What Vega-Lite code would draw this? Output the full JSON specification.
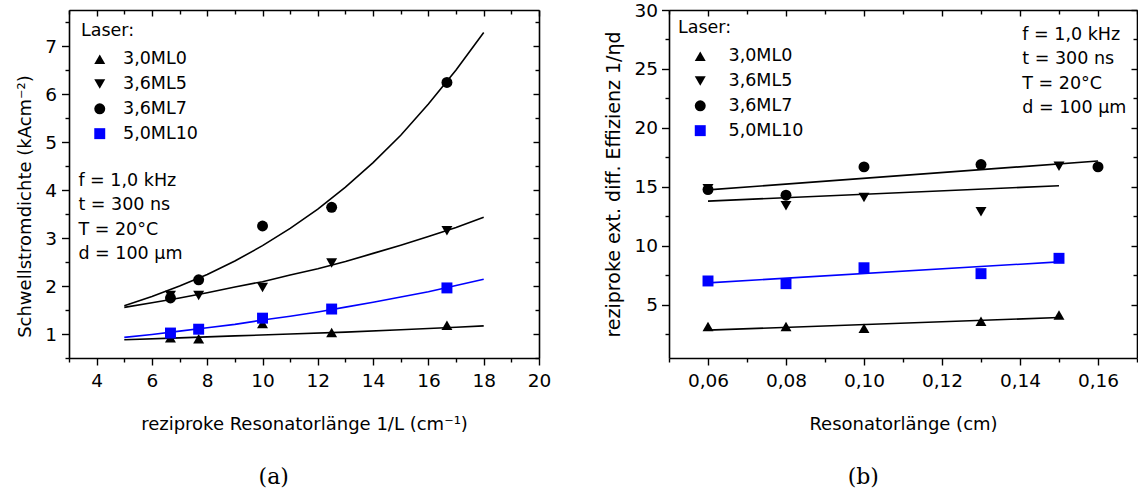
{
  "$schema": "https://vega.github.io/schema/vega-lite/v6.json",
  "background": "white",
  "padding": {"left": 16, "top": 1, "right": 0, "bottom": 0},
  "config": {
    "font": "DejaVu Sans",
    "view": {"stroke": null},
    "axis": {"grid": false, "domainColor": "black", "domainWidth": 1.6, "tickColor": "black", "tickWidth": 1.4, "labelColor": "black", "labelFont": "DejaVu Sans", "labelFontSize": 18.5, "titleFont": "DejaVu Sans", "titleFontSize": 18, "titleFontWeight": "normal", "titleColor": "black", "labelOverlap": false, "labelFlush": false, "labelBound": false},
    "legend": {"titleFont": "DejaVu Sans", "titleFontSize": 17.5, "titleFontWeight": "normal", "titleColor": "black", "labelFont": "DejaVu Sans", "labelFontSize": 17.5, "labelColor": "black", "padding": 0, "rowPadding": 5.8, "titlePadding": 11, "labelOffset": 19.5, "symbolOffset": 13.5, "symbolStrokeWidth": 0},
    "title": {"font": "DejaVu Serif", "fontSize": 22, "fontWeight": "normal", "color": "black", "orient": "bottom", "anchor": "middle", "frame": "bounds"}
  },
  "datasets": {
    "pointsA": [
      {"laser": "3,0ML0", "x": 6.67, "y": 0.92}, {"laser": "3,0ML0", "x": 7.69, "y": 0.90}, {"laser": "3,0ML0", "x": 10, "y": 1.22}, {"laser": "3,0ML0", "x": 12.5, "y": 1.03}, {"laser": "3,0ML0", "x": 16.67, "y": 1.18},
      {"laser": "3,6ML5", "x": 6.67, "y": 1.80}, {"laser": "3,6ML5", "x": 7.69, "y": 1.80}, {"laser": "3,6ML5", "x": 10, "y": 1.97}, {"laser": "3,6ML5", "x": 12.5, "y": 2.48}, {"laser": "3,6ML5", "x": 16.67, "y": 3.15},
      {"laser": "3,6ML7", "x": 6.67, "y": 1.75}, {"laser": "3,6ML7", "x": 7.69, "y": 2.13}, {"laser": "3,6ML7", "x": 10, "y": 3.25}, {"laser": "3,6ML7", "x": 12.5, "y": 3.64}, {"laser": "3,6ML7", "x": 16.67, "y": 6.24},
      {"laser": "5,0ML10", "x": 6.67, "y": 1.02}, {"laser": "5,0ML10", "x": 7.69, "y": 1.10}, {"laser": "5,0ML10", "x": 10, "y": 1.33}, {"laser": "5,0ML10", "x": 12.5, "y": 1.52}, {"laser": "5,0ML10", "x": 16.67, "y": 1.96}
    ],
    "fitA": [
      {"laser": "3,6ML7", "x": 5, "y": 1.59}, {"laser": "3,6ML7", "x": 6, "y": 1.78}, {"laser": "3,6ML7", "x": 7, "y": 2.0}, {"laser": "3,6ML7", "x": 8, "y": 2.24}, {"laser": "3,6ML7", "x": 9, "y": 2.52}, {"laser": "3,6ML7", "x": 10, "y": 2.84}, {"laser": "3,6ML7", "x": 11, "y": 3.2}, {"laser": "3,6ML7", "x": 12, "y": 3.6}, {"laser": "3,6ML7", "x": 13, "y": 4.06}, {"laser": "3,6ML7", "x": 14, "y": 4.57}, {"laser": "3,6ML7", "x": 15, "y": 5.14}, {"laser": "3,6ML7", "x": 16, "y": 5.79}, {"laser": "3,6ML7", "x": 17, "y": 6.5}, {"laser": "3,6ML7", "x": 18, "y": 7.28},
      {"laser": "3,6ML5", "x": 5, "y": 1.555}, {"laser": "3,6ML5", "x": 6, "y": 1.65}, {"laser": "3,6ML5", "x": 7, "y": 1.75}, {"laser": "3,6ML5", "x": 8, "y": 1.86}, {"laser": "3,6ML5", "x": 9, "y": 1.98}, {"laser": "3,6ML5", "x": 10, "y": 2.09}, {"laser": "3,6ML5", "x": 11, "y": 2.23}, {"laser": "3,6ML5", "x": 12, "y": 2.36}, {"laser": "3,6ML5", "x": 13, "y": 2.51}, {"laser": "3,6ML5", "x": 14, "y": 2.68}, {"laser": "3,6ML5", "x": 15, "y": 2.85}, {"laser": "3,6ML5", "x": 16, "y": 3.03}, {"laser": "3,6ML5", "x": 17, "y": 3.22}, {"laser": "3,6ML5", "x": 18, "y": 3.43},
      {"laser": "5,0ML10", "x": 5, "y": 0.93}, {"laser": "5,0ML10", "x": 6, "y": 0.99}, {"laser": "5,0ML10", "x": 7, "y": 1.06}, {"laser": "5,0ML10", "x": 8, "y": 1.13}, {"laser": "5,0ML10", "x": 9, "y": 1.2}, {"laser": "5,0ML10", "x": 10, "y": 1.29}, {"laser": "5,0ML10", "x": 11, "y": 1.37}, {"laser": "5,0ML10", "x": 12, "y": 1.46}, {"laser": "5,0ML10", "x": 13, "y": 1.56}, {"laser": "5,0ML10", "x": 14, "y": 1.66}, {"laser": "5,0ML10", "x": 15, "y": 1.77}, {"laser": "5,0ML10", "x": 16, "y": 1.88}, {"laser": "5,0ML10", "x": 17, "y": 2.01}, {"laser": "5,0ML10", "x": 18, "y": 2.14},
      {"laser": "3,0ML0", "x": 5, "y": 0.88}, {"laser": "3,0ML0", "x": 7, "y": 0.92}, {"laser": "3,0ML0", "x": 9, "y": 0.96}, {"laser": "3,0ML0", "x": 11, "y": 1.0}, {"laser": "3,0ML0", "x": 13, "y": 1.04}, {"laser": "3,0ML0", "x": 15, "y": 1.09}, {"laser": "3,0ML0", "x": 17, "y": 1.14}, {"laser": "3,0ML0", "x": 18, "y": 1.17}
    ],
    "pointsB": [
      {"laser": "3,0ML0", "x": 0.06, "y": 3.17}, {"laser": "3,0ML0", "x": 0.08, "y": 3.17}, {"laser": "3,0ML0", "x": 0.10, "y": 3.03}, {"laser": "3,0ML0", "x": 0.13, "y": 3.62}, {"laser": "3,0ML0", "x": 0.15, "y": 4.15},
      {"laser": "3,6ML5", "x": 0.06, "y": 14.85}, {"laser": "3,6ML5", "x": 0.08, "y": 13.4}, {"laser": "3,6ML5", "x": 0.10, "y": 14.1}, {"laser": "3,6ML5", "x": 0.13, "y": 12.9}, {"laser": "3,6ML5", "x": 0.15, "y": 16.75},
      {"laser": "3,6ML7", "x": 0.06, "y": 14.78}, {"laser": "3,6ML7", "x": 0.08, "y": 14.3}, {"laser": "3,6ML7", "x": 0.10, "y": 16.7}, {"laser": "3,6ML7", "x": 0.13, "y": 16.9}, {"laser": "3,6ML7", "x": 0.16, "y": 16.7},
      {"laser": "5,0ML10", "x": 0.06, "y": 7.03}, {"laser": "5,0ML10", "x": 0.08, "y": 6.8}, {"laser": "5,0ML10", "x": 0.10, "y": 8.15}, {"laser": "5,0ML10", "x": 0.13, "y": 7.65}, {"laser": "5,0ML10", "x": 0.15, "y": 8.95}
    ],
    "fitB": [
      {"laser": "3,6ML7", "x": 0.06, "y": 14.75}, {"laser": "3,6ML7", "x": 0.16, "y": 17.2},
      {"laser": "3,6ML5", "x": 0.06, "y": 13.8}, {"laser": "3,6ML5", "x": 0.15, "y": 15.1},
      {"laser": "5,0ML10", "x": 0.06, "y": 6.87}, {"laser": "5,0ML10", "x": 0.15, "y": 8.65},
      {"laser": "3,0ML0", "x": 0.06, "y": 2.86}, {"laser": "3,0ML0", "x": 0.15, "y": 3.93}
    ]
  },
  "resolve": {
    "scale": {"color": "independent", "shape": "independent", "size": "independent"},
    "legend": {"color": "independent", "shape": "independent", "size": "independent"}
  },
  "spacing": 53,
  "hconcat": [
    {
      "width": 470,
      "height": 348,
      "title": {"text": "(a)", "offset": 33, "dx": -10},
      "layer": [
        {
          "data": {"name": "fitA"},
          "transform": [{"filter": "datum.laser != '5,0ML10'"}],
          "mark": {"type": "line", "strokeWidth": 1.6, "color": "black"},
          "encoding": {
            "x": {"field": "x", "type": "quantitative", "scale": {"domain": [3, 20], "nice": false, "zero": false},
              "axis": {"orient": "bottom", "values": [3,4,5,6,7,8,9,10,11,12,13,14,15,16,17,18,19,20], "labelExpr": "datum.value % 2 == 0 ? format(datum.value, 'd') : ''", "tickSize": {"condition": {"test": "datum.value % 2 == 0", "value": 7}, "value": 4}, "labelPadding": 6, "title": "reziproke Resonatorlänge 1/L (cm⁻¹)", "titlePadding": 26}},
            "y": {"field": "y", "type": "quantitative", "scale": {"domain": [0.5, 7.75], "nice": false, "zero": false},
              "axis": {"orient": "left", "values": [0.5,1,1.5,2,2.5,3,3.5,4,4.5,5,5.5,6,6.5,7,7.5], "labelExpr": "datum.value % 1 == 0 ? format(datum.value, 'd') : ''", "tickSize": {"condition": {"test": "datum.value % 1 == 0", "value": 7.5}, "value": 4}, "labelPadding": 5, "title": "Schwellstromdichte (kAcm⁻²)", "titlePadding": 10, "titleY": 196}},
            "detail": {"field": "laser", "type": "nominal"}
          }
        },
        {
          "data": {"name": "fitA"},
          "transform": [{"filter": "datum.laser == '5,0ML10'"}],
          "mark": {"type": "line", "strokeWidth": 1.6, "color": "#0000ff"},
          "encoding": {
            "x": {"field": "x", "type": "quantitative", "scale": {"domain": [3, 20], "nice": false, "zero": false}, "axis": null},
            "y": {"field": "y", "type": "quantitative", "scale": {"domain": [0.5, 7.75], "nice": false, "zero": false}, "axis": null}
          }
        },
        {
          "data": {"name": "pointsA"},
          "mark": {"type": "point", "filled": true, "opacity": 1, "strokeWidth": 0},
          "encoding": {
            "x": {"field": "x", "type": "quantitative", "scale": {"domain": [3, 20], "nice": false, "zero": false}, "axis": null},
            "y": {"field": "y", "type": "quantitative", "scale": {"domain": [0.5, 7.75], "nice": false, "zero": false}, "axis": null},
            "color": {"field": "laser", "type": "nominal", "scale": {"domain": ["3,0ML0", "3,6ML5", "3,6ML7", "5,0ML10"], "range": ["black", "black", "black", "#0000ff"]}, "legend": {"title": "Laser:", "orient": "top-left", "offset": 12, "symbolOffset": 10, "labelOffset": 14.5}},
            "shape": {"field": "laser", "type": "nominal", "scale": {"domain": ["3,0ML0", "3,6ML5", "3,6ML7", "5,0ML10"], "range": ["triangle-up", "triangle-down", "circle", "square"]}, "legend": {"title": "Laser:", "orient": "top-left", "offset": 12, "symbolOffset": 10, "labelOffset": 14.5}},
            "size": {"field": "laser", "type": "nominal", "scale": {"domain": ["3,0ML0", "3,6ML5", "3,6ML7", "5,0ML10"], "range": [120, 120, 85, 70]}, "legend": {"title": "Laser:", "orient": "top-left", "offset": 12, "symbolOffset": 10, "labelOffset": 14.5}}
          }
        },
        {
          "data": {"values": [{}]},
          "mark": {"type": "text", "align": "left", "baseline": "middle", "fontSize": 17.5, "lineHeight": 24.5, "font": "DejaVu Sans", "color": "black", "text": ["f = 1,0 kHz", "t = 300 ns", "T = 20°C", "d = 100 µm"]},
          "encoding": {
            "x": {"datum": 3.34, "type": "quantitative", "scale": {"domain": [3, 20], "nice": false, "zero": false}, "axis": null},
            "y": {"datum": 4.19, "type": "quantitative", "scale": {"domain": [0.5, 7.75], "nice": false, "zero": false}, "axis": null}
          }
        },
        {
          "data": {"name": "fitA"},
          "mark": {"type": "point", "opacity": 0},
          "encoding": {
            "x": {"field": "x", "type": "quantitative", "scale": {"domain": [3, 20], "nice": false, "zero": false},
              "axis": {"orient": "top", "labels": false, "title": null, "values": [3,4,5,6,7,8,9,10,11,12,13,14,15,16,17,18,19,20], "tickSize": {"condition": {"test": "datum.value % 2 == 0", "value": -6}, "value": -4}}},
            "y": {"field": "y", "type": "quantitative", "scale": {"domain": [0.5, 7.75], "nice": false, "zero": false},
              "axis": {"orient": "right", "labels": false, "title": null, "values": [0.5,1,1.5,2,2.5,3,3.5,4,4.5,5,5.5,6,6.5,7,7.5], "tickSize": {"condition": {"test": "datum.value % 1 == 0", "value": -6}, "value": -4}}}
          }
        }
      ],
      "resolve": {"axis": {"x": "independent", "y": "independent"}}
    },
    {
      "width": 468,
      "height": 348,
      "title": {"text": "(b)", "offset": 33, "dx": -8},
      "layer": [
        {
          "data": {"name": "fitB"},
          "transform": [{"filter": "datum.laser != '5,0ML10'"}],
          "mark": {"type": "line", "strokeWidth": 1.6, "color": "black"},
          "encoding": {
            "x": {"field": "x", "type": "quantitative", "scale": {"domain": [0.05, 0.17], "nice": false, "zero": false},
              "axis": {"orient": "bottom", "values": [0.05,0.06,0.07,0.08,0.09,0.10,0.11,0.12,0.13,0.14,0.15,0.16,0.17], "labelExpr": "round(datum.value*100) % 2 == 0 ? replace(format(datum.value, '.2f'), '.', ',') : ''", "tickSize": {"condition": {"test": "round(datum.value*100) % 2 == 0", "value": 7}, "value": 4}, "labelPadding": 6, "title": "Resonatorlänge (cm)", "titlePadding": 26}},
            "y": {"field": "y", "type": "quantitative", "scale": {"domain": [0.5, 30], "nice": false, "zero": false},
              "axis": {"orient": "left", "values": [2.5,5,7.5,10,12.5,15,17.5,20,22.5,25,27.5,30], "labelExpr": "datum.value % 5 == 0 ? format(datum.value, 'd') : ''", "tickSize": {"condition": {"test": "datum.value % 5 == 0", "value": 7.5}, "value": 4}, "labelPadding": 4, "title": "reziproke ext. diff. Effizienz   1/ηd", "titleFontSize": 19, "titlePadding": 10}},
            "detail": {"field": "laser", "type": "nominal"}
          }
        },
        {
          "data": {"name": "fitB"},
          "transform": [{"filter": "datum.laser == '5,0ML10'"}],
          "mark": {"type": "line", "strokeWidth": 1.6, "color": "#0000ff"},
          "encoding": {
            "x": {"field": "x", "type": "quantitative", "scale": {"domain": [0.05, 0.17], "nice": false, "zero": false}, "axis": null},
            "y": {"field": "y", "type": "quantitative", "scale": {"domain": [0.5, 30], "nice": false, "zero": false}, "axis": null}
          }
        },
        {
          "data": {"name": "pointsB"},
          "mark": {"type": "point", "filled": true, "opacity": 1, "strokeWidth": 0},
          "encoding": {
            "x": {"field": "x", "type": "quantitative", "scale": {"domain": [0.05, 0.17], "nice": false, "zero": false}, "axis": null},
            "y": {"field": "y", "type": "quantitative", "scale": {"domain": [0.5, 30], "nice": false, "zero": false}, "axis": null},
            "color": {"field": "laser", "type": "nominal", "scale": {"domain": ["3,0ML0", "3,6ML5", "3,6ML7", "5,0ML10"], "range": ["black", "black", "black", "#0000ff"]}, "legend": {"title": "Laser:", "orient": "top-left", "offset": 9}},
            "shape": {"field": "laser", "type": "nominal", "scale": {"domain": ["3,0ML0", "3,6ML5", "3,6ML7", "5,0ML10"], "range": ["triangle-up", "triangle-down", "circle", "square"]}, "legend": {"title": "Laser:", "orient": "top-left", "offset": 9}},
            "size": {"field": "laser", "type": "nominal", "scale": {"domain": ["3,0ML0", "3,6ML5", "3,6ML7", "5,0ML10"], "range": [120, 120, 85, 70]}, "legend": {"title": "Laser:", "orient": "top-left", "offset": 9}}
          }
        },
        {
          "data": {"values": [{}]},
          "mark": {"type": "text", "align": "left", "baseline": "middle", "fontSize": 17.5, "lineHeight": 24.5, "font": "DejaVu Sans", "color": "black", "text": ["f = 1,0 kHz", "t = 300 ns", "T = 20°C", "d = 100 µm"]},
          "encoding": {
            "x": {"datum": 0.1406, "type": "quantitative", "scale": {"domain": [0.05, 0.17], "nice": false, "zero": false}, "axis": null},
            "y": {"datum": 27.9, "type": "quantitative", "scale": {"domain": [0.5, 30], "nice": false, "zero": false}, "axis": null}
          }
        },
        {
          "data": {"name": "fitB"},
          "mark": {"type": "point", "opacity": 0},
          "encoding": {
            "x": {"field": "x", "type": "quantitative", "scale": {"domain": [0.05, 0.17], "nice": false, "zero": false},
              "axis": {"orient": "top", "labels": false, "title": null, "values": [0.05,0.06,0.07,0.08,0.09,0.10,0.11,0.12,0.13,0.14,0.15,0.16,0.17], "tickSize": {"condition": {"test": "round(datum.value*100) % 2 == 0", "value": -6}, "value": -4}}},
            "y": {"field": "y", "type": "quantitative", "scale": {"domain": [0.5, 30], "nice": false, "zero": false},
              "axis": {"orient": "right", "labels": false, "title": null, "values": [2.5,5,7.5,10,12.5,15,17.5,20,22.5,25,27.5,30], "tickSize": {"condition": {"test": "datum.value % 5 == 0", "value": -6}, "value": -4}}}
          }
        }
      ],
      "resolve": {"axis": {"x": "independent", "y": "independent"}}
    }
  ]
}
